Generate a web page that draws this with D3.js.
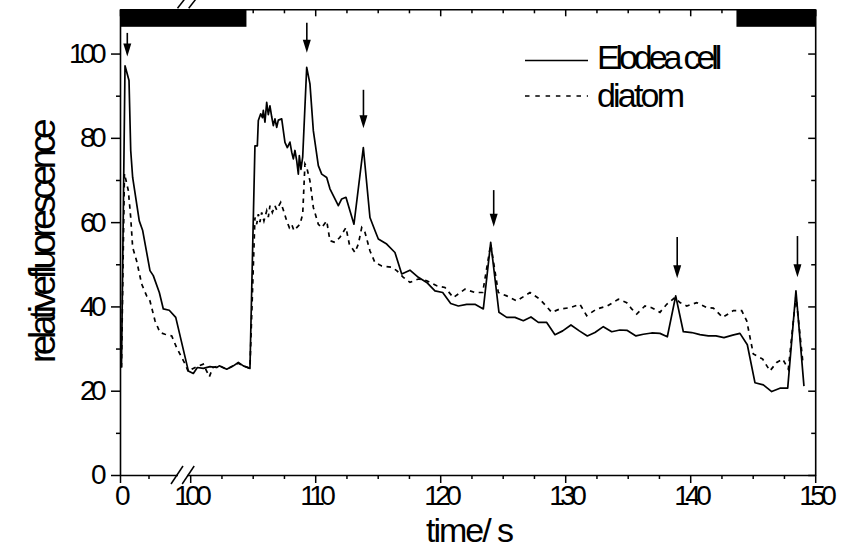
<!DOCTYPE html>
<html><head><meta charset="utf-8">
<script src="https://cdn.jsdelivr.net/npm/d3@7"></script>
<style>
body{margin:0;background:#fff;}
svg{display:block;font-family:"Liberation Sans",Arial,sans-serif;}
</style></head><body>
<svg id="chart" width="850" height="549"></svg>
<script>
// Fluorescence time courses (time in s, relative fluorescence)
const elodeaTime = [0.13,0.44,0.79,0.94,1.11,1.69,1.99,2.63,2.92,3.45,3.80,4.32,4.89,
  99.85,100.25,100.57,101.05,101.58,102.12,102.33,102.92,103.45,103.85,104.25,104.78,
  105.18,105.37,105.45,105.64,105.78,105.85,105.98,106.12,106.25,106.38,106.52,106.65,106.78,106.92,107.05,107.32,
  107.58,107.77,107.98,108.12,108.25,108.38,108.52,108.65,108.73,108.86,109.0,109.32,109.58,109.85,
  110.25,110.52,110.92,111.18,111.45,111.85,112.12,112.46,112.78,113.1,113.85,114.38,114.78,115.05,
  115.72,116.38,116.92,117.58,118.25,118.92,119.58,120.2,120.84,121.45,122.12,122.78,123.45,124.04,
  124.7,125.32,125.98,126.65,127.26,127.85,128.52,129.18,129.8,130.46,131.13,131.77,132.38,133.05,
  133.72,134.38,134.97,135.66,136.25,136.92,137.58,138.17,138.84,139.45,140.12,140.78,141.45,142.06,
  142.7,143.4,143.98,144.57,145.18,145.85,146.52,147.18,147.8,148.46,149.1];
const elodeaValue = [25.5,97.1,93.6,77,70.6,60.3,58,48.5,47.3,43.3,39.4,39.1,37.4,
  24.7,24.1,25.5,25.3,25.7,25.5,25.9,25.1,25.9,26.7,25.9,25.3,
  78.1,78.1,84.1,85.7,84.8,86.5,83.7,88.4,85.5,87.6,85,82.9,84.5,82.5,84.2,84.5,
  78.9,77.7,79,76.6,75,77,74.6,71.4,75.8,72.5,75.5,96.7,92.8,81.7,
  73.4,71.4,70.6,67.9,66.3,63.9,65.5,65.9,62.7,59.5,77.7,61.1,58,56,
  54.8,52.8,47.7,48.6,46.9,45.7,43.7,43.3,40.7,40.1,40.5,40.5,39.4,55.2,
  38.6,37.4,37.4,36.6,37.5,36.2,36.2,33.3,34.2,35.6,34.2,33,33.8,35.2,
  34,34.4,34.3,33,33.4,33.7,33.6,32.8,42.5,34,33.8,33.3,33,33,
  32.6,33.2,33.6,30.9,21.9,21.4,19.8,20.6,20.6,43.7,21.1];

const diatomTime = [0.13,0.39,0.73,0.94,1.11,1.46,1.90,2.34,2.63,3.07,3.51,3.95,4.54,4.97,
  99.58,99.85,100.12,100.52,101.05,101.53,101.82,102.33,102.92,103.45,103.85,104.25,104.78,
  105.18,105.32,105.45,105.58,105.72,105.9,106.12,106.25,106.38,106.57,106.78,106.92,107.24,107.45,
  107.72,107.93,108.12,108.3,108.52,108.78,109.0,109.18,109.32,109.58,109.85,110.25,110.52,110.92,
  111.18,111.58,111.98,112.46,112.73,113.18,113.45,113.72,113.98,114.38,114.78,115.32,116.12,116.52,
  117.05,117.58,118.25,118.92,119.72,120.38,121.05,121.98,122.78,123.4,124.04,124.65,125.32,126.12,
  127.18,127.98,128.92,129.58,130.38,131.18,131.72,132.52,133.37,134.25,134.92,135.32,135.72,136.38,
  136.92,137.58,138.12,138.78,139.18,139.72,140.52,141.32,141.85,142.6,143.45,144.12,144.52,145.05,
  145.8,146.38,146.92,147.4,147.85,148.46,149.0];
const diatomValue = [25.5,71.5,67.5,61.1,54,50.8,45.3,42.5,41.3,36.6,33.8,33.4,33,30.2,
  26.3,24.5,25.1,25.7,26.3,23.3,25.5,25.9,25.1,25.9,26.5,25.9,25.3,
  61.1,59.5,61.9,60,62.3,60.3,62.7,61.2,63.9,62.3,63.9,62.9,64.7,62.9,
  60.3,58.7,59.5,58,58.7,59.5,61.9,73.8,73,69.8,63.5,59.5,58.7,60.3,
  55.6,55.2,56.4,58.7,54.8,52.8,54.8,58.7,57.6,53.2,50.4,49.6,49.3,48.5,
  46.9,45.7,46.5,46.1,44.9,44.5,42.1,44.1,43.3,43.3,54.8,43.3,42.5,41.3,
  43.3,41.7,38.6,39.4,39.7,40.5,37.8,39.4,40.1,41.7,40.9,39.4,38.2,40.1,
  39.7,38.6,40.5,42.1,40.9,40.1,40.9,39.7,39.6,37.4,39,39,36.6,28.7,
  27.5,24.7,26.7,27.5,25.1,42.5,27.1];

// Stimulus arrows: time, shaft start value, tip value
const arrowTime = [0.64, 109.33, 113.86, 124.28, 138.96, 148.58];
const arrowFrom = [104.9, 107.3, 91.4, 67.6, 56.5, 56.7];
const arrowTo   = [99.3, 100.2, 82.3, 58.9, 46.7, 46.9];

// Dark periods (black bars along the top)
const darkStart = [0, 143.7];
const darkEnd   = [104.5, 150];

const xMajorTicks = [0, 100, 110, 120, 130, 140, 150];
const xMinorTicks = [2.5, 102.5, 105, 107.5, 112.5, 115, 117.5, 122.5, 125, 127.5,
  132.5, 135, 137.5, 142.5, 145, 147.5];
const yMajorTicks = [0, 20, 40, 60, 80, 100];
const yMinorTicks = [10, 30, 50, 70, 90];
const seriesNames = ["Elodea cell", "diatom"];

const svg = d3.select("#chart");

// Broken time axis: 0–5 s, gap, 99.6–150 s
const x = d3.scaleLinear().domain([0, 5, 99.6, 150]).range([120, 177, 185.2, 815.2]);
const y = d3.scaleLinear().domain([0, 110.5]).range([475, 9.3]);
const plotLeft = x(0), plotRight = x(150), plotTop = y(110.5), plotBottom = y(0);

const tickFont = 28, tickLS = "-4.6px";

function styleAxis(g) {
  g.selectAll("path.domain").attr("stroke", "#000").attr("stroke-width", 1.6);
  g.selectAll(".tick line").attr("stroke", "#000").attr("stroke-width", 1.5);
  g.selectAll(".tick text").attr("fill", "#000")
    .style("font-size", tickFont + "px").style("letter-spacing", tickLS)
    .style("font-family", '"Liberation Sans", Arial, sans-serif');
}

// bottom axis
svg.append("g").attr("transform", `translate(0,${plotBottom})`)
  .call(d3.axisBottom(x).tickValues(xMinorTicks).tickSize(4).tickSizeOuter(0).tickFormat(""))
  .call(styleAxis);
svg.append("g").attr("transform", `translate(0,${plotBottom})`)
  .call(d3.axisBottom(x).tickValues(xMajorTicks).tickSize(8).tickSizeOuter(0).tickPadding(2).tickFormat(d3.format("d")))
  .call(styleAxis)
  .call(g => g.select("path.domain").remove());

// top axis (ticks inward)
svg.append("g").attr("transform", `translate(0,${plotTop})`)
  .call(d3.axisTop(x).tickValues(xMinorTicks).tickSize(-4).tickSizeOuter(0).tickFormat(""))
  .call(styleAxis);
svg.append("g").attr("transform", `translate(0,${plotTop})`)
  .call(d3.axisTop(x).tickValues(xMajorTicks).tickSize(-7).tickSizeOuter(0).tickFormat(""))
  .call(styleAxis).call(g => g.select("path.domain").remove());

// left axis
svg.append("g").attr("transform", `translate(${plotLeft},0)`)
  .call(d3.axisLeft(y).tickValues(yMinorTicks).tickSize(4).tickSizeOuter(0).tickFormat(""))
  .call(styleAxis);
svg.append("g").attr("transform", `translate(${plotLeft},0)`)
  .call(d3.axisLeft(y).tickValues(yMajorTicks).tickSize(9).tickSizeOuter(0).tickPadding(9).tickFormat(d3.format("d")))
  .call(styleAxis).call(g => g.select("path.domain").remove());

// right axis (ticks inward)
svg.append("g").attr("transform", `translate(${plotRight},0)`)
  .call(d3.axisRight(y).tickValues(yMinorTicks).tickSize(-4).tickSizeOuter(0).tickFormat(""))
  .call(styleAxis);
svg.append("g").attr("transform", `translate(${plotRight},0)`)
  .call(d3.axisRight(y).tickValues(yMajorTicks).tickSize(-7).tickSizeOuter(0).tickFormat(""))
  .call(styleAxis).call(g => g.select("path.domain").remove());

// dark-period bars
svg.append("g").selectAll("rect").data(darkStart).join("rect")
  .attr("x", (d) => x(d))
  .attr("y", plotTop)
  .attr("width", (d, i) => x(darkEnd[i]) - x(d))
  .attr("height", 17.5)
  .attr("fill", "#000");

// data lines
const line = d3.line().x(d => x(d[0])).y(d => y(d[1]));
const elodea = elodeaTime.map((t, i) => [t, elodeaValue[i]]);
const diatom = diatomTime.map((t, i) => [t, diatomValue[i]]);

svg.append("path").datum(diatom).attr("d", line)
  .attr("fill", "none").attr("stroke", "#000").attr("stroke-width", 1.7)
  .attr("stroke-dasharray", "4.5,4.5");
svg.append("path").datum(elodea).attr("d", line)
  .attr("fill", "none").attr("stroke", "#000").attr("stroke-width", 1.7)
  .attr("stroke-linejoin", "round");

// axis-break marks
const bx1 = x(5), bx2 = x(99.6) + 3;
[plotBottom, plotTop].forEach((by, k) => {
  const g = svg.append("g");
  if (k === 0) {
    g.append("rect").attr("x", bx1 + 1).attr("y", by - 2).attr("width", bx2 - bx1 - 2).attr("height", 4).attr("fill", "#fff");
    [bx1, bx2].forEach(cx => g.append("line")
      .attr("x1", cx - 6).attr("y1", by + 9).attr("x2", cx + 6).attr("y2", by - 9)
      .attr("stroke", "#000").attr("stroke-width", 1.5));
  } else {
    [bx1, bx2].forEach(cx => g.append("line")
      .attr("x1", cx + 0.5).attr("y1", by - 1).attr("x2", cx + 7.5).attr("y2", by - 10)
      .attr("stroke", "#000").attr("stroke-width", 1.5));
  }
});

// stimulus arrows
const arrows = svg.append("g");
arrowTime.forEach((t, i) => {
  const ax = x(t), y0 = y(arrowFrom[i]), y1 = y(arrowTo[i]);
  arrows.append("line").attr("x1", ax).attr("x2", ax).attr("y1", y0).attr("y2", y1 - 6)
    .attr("stroke", "#000").attr("stroke-width", 1.6);
  arrows.append("path")
    .attr("d", `M${ax - 4},${y1 - 13}L${ax + 4},${y1 - 13}L${ax},${y1}Z`)
    .attr("fill", "#000");
});

// legend
const legend = svg.append("g");
const legendRows = [{y: 60.5, base: 68.5, dash: null, ls: "-4.1px"}, {y: 96, base: 106.5, dash: "4.5,5.8", ls: "-2.8px"}];
seriesNames.forEach((name, i) => {
  const r = legendRows[i];
  legend.append("line").attr("x1", 525).attr("x2", 588).attr("y1", r.y).attr("y2", r.y)
    .attr("stroke", "#000").attr("stroke-width", 1.7)
    .attr("stroke-dasharray", r.dash);
  legend.append("text").attr("x", 597).attr("y", r.base).text(name)
    .style("font-size", "34px").style("letter-spacing", r.ls).attr("fill", "#000");
});

// axis titles
svg.append("text").attr("transform", "translate(55,243) rotate(-90)")
  .attr("text-anchor", "middle").style("font-size", "37px").style("letter-spacing", "-4.45px")
  .text("relativefluorescence");
svg.append("text").attr("x", 469).attr("y", 542)
  .attr("text-anchor", "middle").style("font-size", "34px").style("letter-spacing", "-2px")
  .text("time/ s");
</script>
</body></html>
